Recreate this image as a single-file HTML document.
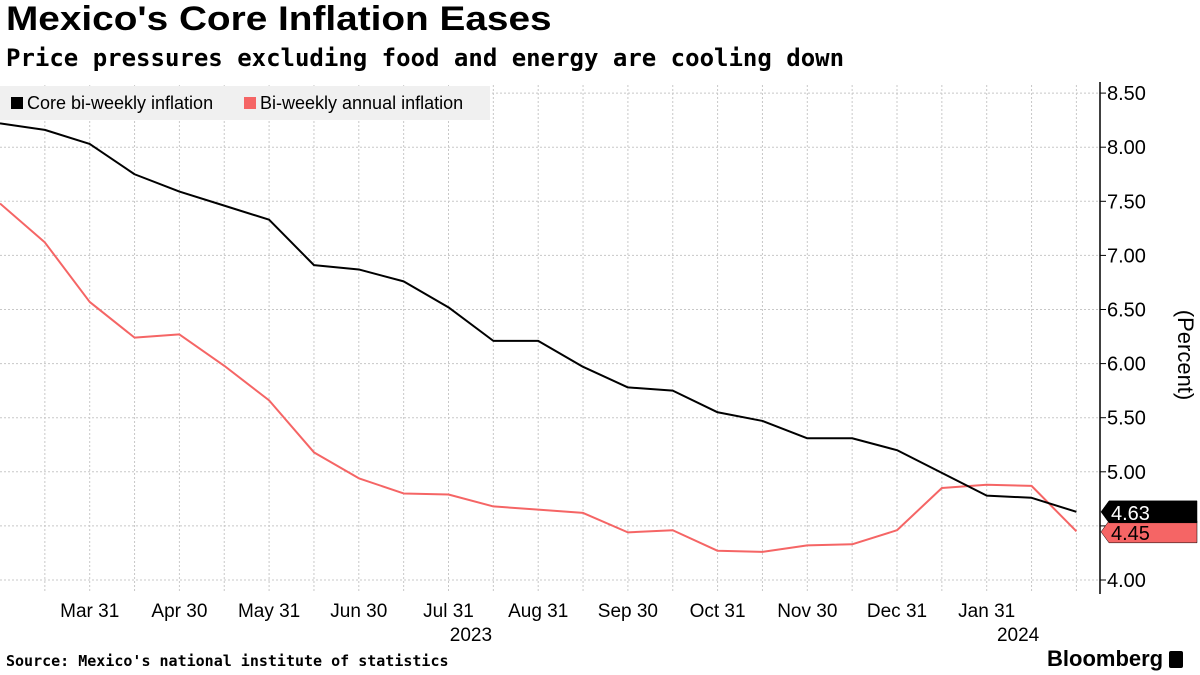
<!DOCTYPE html>
<html><head><meta charset="utf-8"><style>
body{margin:0;width:1200px;height:675px;background:#fff;font-family:"Liberation Sans","DejaVu Sans",sans-serif;overflow:hidden;position:relative}
.t{position:absolute;left:6px;top:0px;font-size:34px;font-weight:bold;color:#000;transform:scaleX(1.14);transform-origin:0 0;white-space:nowrap}
.s{position:absolute;left:6px;top:44px;font-size:24px;font-weight:bold;font-family:"DejaVu Sans Mono","Liberation Mono",monospace;white-space:nowrap}
.src{position:absolute;left:6px;top:652px;font-size:15px;font-weight:bold;font-family:"DejaVu Sans Mono","Liberation Mono",monospace}
.bb{position:absolute;left:1047px;top:646px;font-size:22px;font-weight:bold}
svg{position:absolute;left:0;top:0}
</style></head><body>
<div class="t">Mexico's Core Inflation Eases</div>
<div class="s">Price pressures excluding food and energy are cooling down</div>
<div class="src">Source: Mexico's national institute of statistics</div>
<div class="bb">Bloomberg <span style="display:inline-block;width:14px;height:17px;background:#000;border-radius:2px;vertical-align:-2px"></span></div>
<svg id="c" width="1200" height="675"></svg>
<script>
const core=[8.22,8.16,8.03,7.75,7.59,7.46,7.33,6.91,6.87,6.76,6.52,6.21,6.21,5.97,5.78,5.75,5.55,5.47,5.31,5.31,5.20,4.99,4.78,4.76,4.63];
const annual=[7.48,7.12,6.57,6.24,6.27,5.98,5.66,5.18,4.94,4.80,4.79,4.68,4.65,4.62,4.44,4.46,4.27,4.26,4.32,4.33,4.46,4.85,4.88,4.87,4.45];
const yTicks=[4.0,4.5,5.0,5.5,6.0,6.5,7.0,7.5,8.0,8.5];
const xLabelIdx=[2,4,6,8,10,12,14,16,18,20,22];
const xLabels=["Mar 31","Apr 30","May 31","Jun 30","Jul 31","Aug 31","Sep 30","Oct 31","Nov 30","Dec 31","Jan 31"];
const years=[["2023",10.5],["2024",22.7]];
const NS="http://www.w3.org/2000/svg";
const svg=document.getElementById('c');
const X=i=>i*44.85;
const Y=v=>580-(v-4)*108.2;
function mk(tag,at,txt){const e=document.createElementNS(NS,tag);for(const k in at)e.setAttribute(k,at[k]);if(txt!=null)e.textContent=txt;svg.appendChild(e);return e;}
for(let i=1;i<=24;i++){const l=mk('line',{x1:X(i),x2:X(i),y1:85,y2:592,stroke:'#c8c8c8','stroke-dasharray':'2,2'});

}
yTicks.forEach(v=>{const l=mk('line',{x1:0,x2:1100,y1:Y(v),y2:Y(v),stroke:'#c8c8c8','stroke-dasharray':'2,2'});


const tk=mk('line',{x1:1100,x2:1106,y1:Y(v),y2:Y(v),stroke:'#000'});


const t=mk('text',{x:1107,y:Y(v)+7,'font-size':20,fill:'#000'},v.toFixed(2));

});
const lg=mk('rect',{x:0,y:86,width:490,height:34,fill:'#f0f0f0'});


const l1=mk('rect',{x:11,y:97,width:12,height:12,fill:'#000'});


const t1=mk('text',{x:27,y:109,'font-size':18},'Core bi-weekly inflation');


const l2=mk('rect',{x:244,y:97,width:12,height:12,fill:'#f56565'});


const t2=mk('text',{x:260,y:109,'font-size':18},'Bi-weekly annual inflation');


const ax=mk('line',{x1:1100,x2:1100,y1:82,y2:594,stroke:'#000','stroke-width':1.5});


const yt=mk('text',{x:0,y:0,'font-size':22,transform:'translate(1178,355) rotate(90)','text-anchor':'middle'},'(Percent)');


xLabelIdx.forEach((i,k)=>{const t=mk('text',{x:X(i),y:617,'font-size':19,'text-anchor':'middle'},xLabels[k]);

});
years.forEach(y=>{const t=mk('text',{x:X(y[1]),y:641,'font-size':19,'text-anchor':'middle'},y[0]);

});
function line(d,c,n){const p=mk('polyline',{points:d.map((v,i)=>X(i)+','+Y(v)).join(' '),fill:'none',stroke:c,'stroke-width':2,'stroke-linejoin':'round'});

}
line(annual,'#f56565','annual-inflation-line');
line(core,'#000','core-inflation-line');
function tag(v,c,n,yy){const y=yy;const p=mk('path',{d:`M1101,${y} l8,-11 h88 v22 h-88 z`,fill:c,stroke:'#000','stroke-width':0.5});


const t=mk('text',{x:1111,y:y+8,'font-size':20,fill:c=='#000'?'#fff':'#000'},v.toFixed(2));

}
const ca=Y(annual[annual.length-1]),cc=Y(core[core.length-1]);
tag(annual[annual.length-1],'#f56565','annual-last-value',Math.max(ca,cc+20));
tag(core[core.length-1],'#000','core-last-value',cc);
</script>
</body></html>
